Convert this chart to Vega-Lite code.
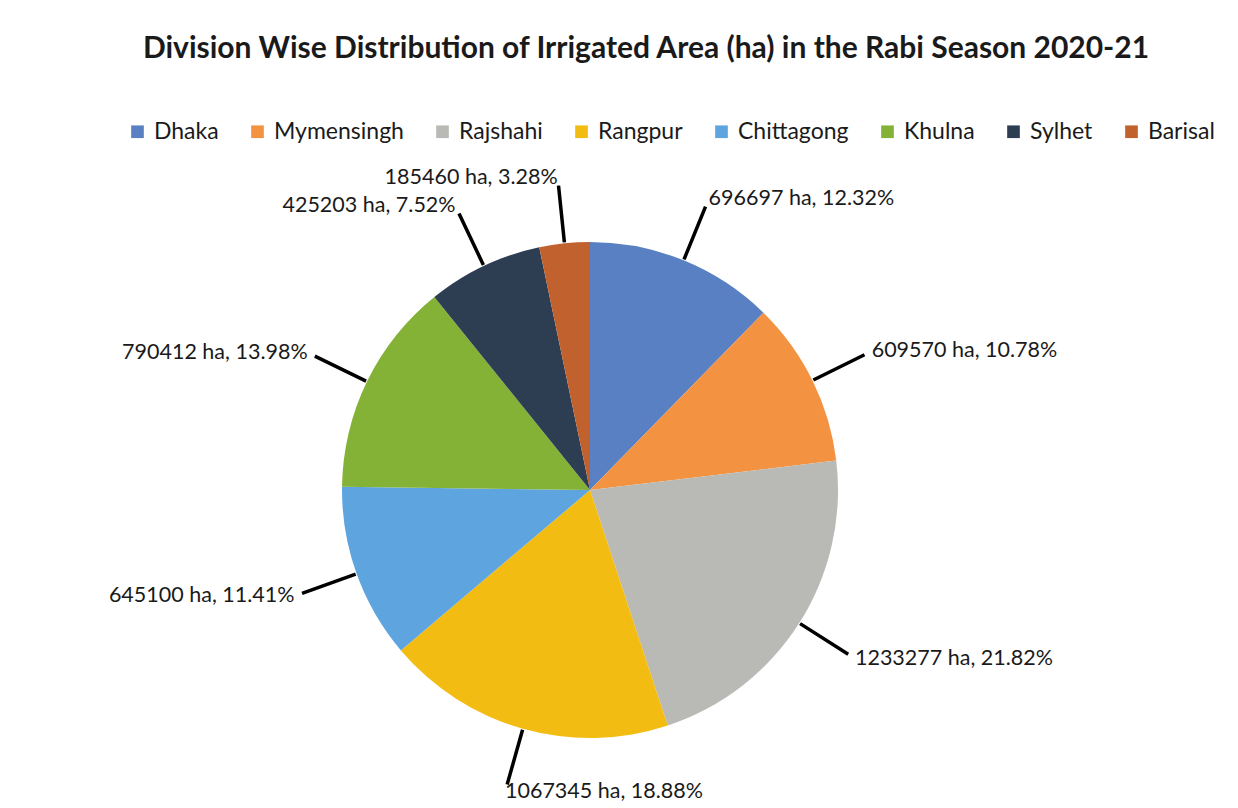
{
  "$schema": "https://vega.github.io/schema/vega-lite/v6.json",
  "autosize": "none",
  "width": 1180,
  "height": 636,
  "padding": {"left": 0, "top": 172, "right": 58, "bottom": 0},
  "background": "white",
  "title": {
    "text": "Division Wise Distribution of Irrigated Area (ha)  in the Rabi Season 2020-21",
    "font": "Lato",
    "fontSize": 30,
    "fontWeight": "bold",
    "color": "#1a1a1a",
    "anchor": "middle",
    "dx": 56,
    "offset": 56
  },
  "config": {"view": {"stroke": null}},
  "data": {
    "values": [
      {"division": "Dhaka", "rank": 1, "area": 696697, "label": "696697 ha, 12.32%", "side": "right"},
      {"division": "Mymensingh", "rank": 2, "area": 609570, "label": "609570 ha, 10.78%", "side": "right"},
      {"division": "Rajshahi", "rank": 3, "area": 1233277, "label": "1233277 ha, 21.82%", "side": "right"},
      {"division": "Rangpur", "rank": 4, "area": 1067345, "label": "1067345 ha, 18.88%", "side": "right"},
      {"division": "Chittagong", "rank": 5, "area": 645100, "label": "645100 ha, 11.41%", "side": "left"},
      {"division": "Khulna", "rank": 6, "area": 790412, "label": "790412 ha, 13.98%", "side": "left"},
      {"division": "Sylhet", "rank": 7, "area": 425203, "label": "425203 ha, 7.52%", "side": "left"},
      {"division": "Barisal", "rank": 8, "area": 185460, "label": "185460 ha, 3.28%", "side": "left"}
    ]
  },
  "encoding": {
    "theta": {"field": "area", "type": "quantitative", "stack": true},
    "order": {"field": "rank", "type": "quantitative"}
  },
  "layer": [
    {
      "mark": {"type": "arc", "radius": 248},
      "encoding": {
        "color": {
          "field": "division",
          "type": "nominal",
          "sort": null,
          "scale": {
            "domain": ["Dhaka", "Mymensingh", "Rajshahi", "Rangpur", "Chittagong", "Khulna", "Sylhet", "Barisal"],
            "range": ["#5a80c4", "#f39240", "#b9b9b5", "#f2bc12", "#5ea5df", "#84b236", "#2d3e52", "#c1612d"]
          },
          "legend": {
            "title": null,
            "orient": "none",
            "legendX": 126,
            "legendY": -52,
            "direction": "horizontal",
            "symbolType": "square",
            "symbolSize": 160,
            "symbolStrokeWidth": 0,
            "labelFont": "Lato",
            "labelFontSize": 23,
            "labelColor": "#1a1a1a",
            "columnPadding": 27,
            "labelOffset": 5
          }
        }
      }
    },
    {
      "mark": {"type": "arc", "radius": 306, "radius2": 249, "padAngle": 3.14, "stroke": "black", "strokeWidth": 3.5, "fillOpacity": 0, "fill": "white"}
    },
    {
      "mark": {"type": "text", "radius": 314, "align": "left", "baseline": "middle", "font": "Lato", "fontSize": 21.5, "color": "#1a1a1a"},
      "encoding": {
        "text": {"condition": {"test": "datum.side === 'right'", "field": "label"}, "value": ""}
      }
    },
    {
      "mark": {"type": "text", "radius": 314, "align": "right", "baseline": "middle", "font": "Lato", "fontSize": 21.5, "color": "#1a1a1a"},
      "encoding": {
        "text": {"condition": {"test": "datum.side === 'left'", "field": "label"}, "value": ""}
      }
    }
  ]
}
